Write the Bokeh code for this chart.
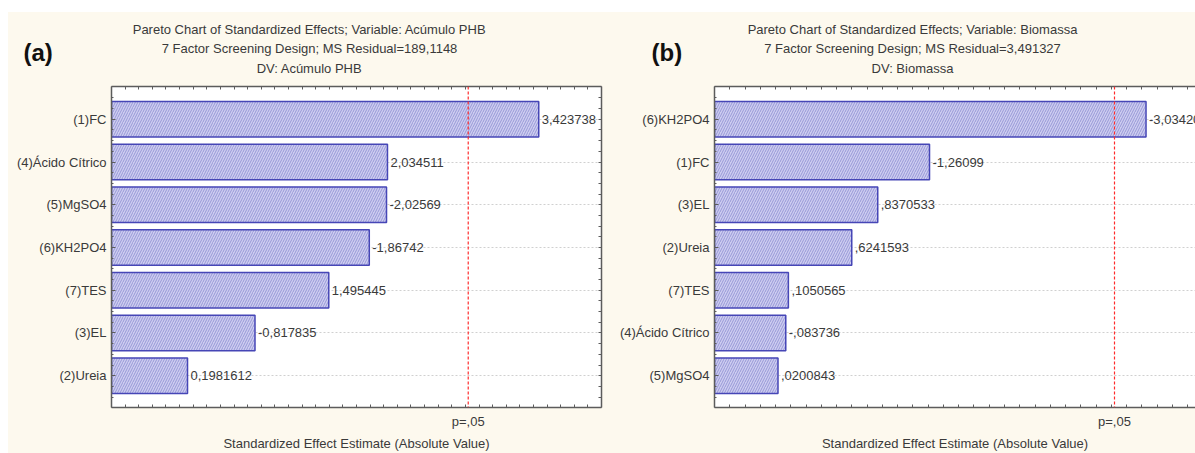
import numpy as np
from bokeh.plotting import figure
from bokeh.models import (Range1d, FixedTicker, LinearAxis, Span,
                          ColumnDataSource, Grid, Spacer)
from bokeh.layouts import row, column
from bokeh.embed import file_html
from bokeh.resources import INLINE
from bokeh.core.properties import value

# ---------------- data ----------------
factors_a = ["(1)FC", "(4)Ácido Cítrico", "(5)MgSO4", "(6)KH2PO4",
             "(7)TES", "(3)EL", "(2)Ureia"]
effects_a = [3.423738, 2.034511, -2.02569, -1.86742, 1.495445, -0.817835, 0.1981612]
labels_a = ["3,423738", "2,034511", "-2,02569", "-1,86742", "1,495445",
            "-0,817835", "0,1981612"]
titles_a = ["Pareto Chart of Standardized Effects; Variable: Acúmulo PHB",
            "7 Factor Screening Design; MS Residual=189,1148",
            "DV: Acúmulo PHB"]

factors_b = ["(6)KH2PO4", "(1)FC", "(3)EL", "(2)Ureia", "(7)TES",
             "(4)Ácido Cítrico", "(5)MgSO4"]
effects_b = [-3.03420, -1.26099, 0.8370533, 0.6241593, 0.1050565, -0.083736, 0.0200843]
labels_b = ["-3,03420", "-1,26099", ",8370533", ",6241593", ",1050565",
            "-,083736", ",0200843"]
titles_b = ["Pareto Chart of Standardized Effects; Variable: Biomassa",
            "7 Factor Screening Design; MS Residual=3,491327",
            "DV: Biomassa"]

p_crit = 2.776          # p = .05 critical value
p_label = "p=,05"
x_title = "Standardized Effect Estimate (Absolute Value)"

# ---------------- style ----------------
HEAD_H = 70
H = 371
CREAM = "#fdf9ee"
FONT = "Liberation Sans"
TXT = "#3a3a3a"
AX = "#5c5c5c"
X_START = -0.5


def header(width, titles, tag, title_cx, tag_x):
    h = figure(width=width, height=HEAD_H, output_backend="svg",
               toolbar_location=None, frame_align=False,
               x_range=Range1d(0, width), y_range=Range1d(HEAD_H, 0),
               x_axis_location=None, y_axis_location=None, min_border=0,
               outline_line_color=None, background_fill_color=CREAM,
               border_fill_color=CREAM)
    h.center = []
    h.text(x=[title_cx] * len(titles), y=[17, 36, 56], text=titles,
           text_align="center", text_baseline="middle",
           text_font=value(FONT), text_font_size="13px", text_color=TXT)
    h.text(x=[tag_x], y=[40], text=[tag], text_align="left",
           text_baseline="middle", text_font=value(FONT),
           text_font_size="24px", text_font_style="bold", text_color="#111111")
    return h


def panel(factors, effects, labels, width, border_left, border_right, x_end,
          right_axis):
    n = len(factors)
    pos = list(range(n, 0, -1))
    src = ColumnDataSource(dict(y=pos, right=[abs(e) for e in effects],
                                left=[X_START] * n, label=labels))
    p = figure(width=width, height=H, output_backend="svg", toolbar_location=None,
               frame_align=False,
               x_range=Range1d(X_START, x_end), y_range=Range1d(0.256, n + 0.767),
               x_axis_location=None, y_axis_location=None,
               min_border_left=border_left, min_border_right=border_right,
               min_border_top=4, min_border_bottom=44,
               background_fill_color="white", border_fill_color=CREAM,
               outline_line_color=None)
    p.center = []   # drop default grids

    xminor = list(np.arange(X_START, x_end + 0.001, 0.125))
    yminor = list(np.arange(0.5, n + 0.51, 0.25))

    p.add_layout(Grid(dimension=1, ticker=FixedTicker(ticks=pos),
                      grid_line_color="#d0d0d0", grid_line_dash="2 2"))

    p.hbar(y="y", left="left", right="right", height=0.83, source=src,
           fill_color="#cdcdf0", line_color="#4646b6", line_width=1.5,
           hatch_pattern="/", hatch_color="#8a8ad0", hatch_scale=5,
           hatch_weight=0.8)
    p.text(x="right", y="y", text="label", source=src, x_offset=3,
           text_baseline="middle", text_align="left",
           text_font=value(FONT), text_font_size="13px", text_color=TXT)

    p.add_layout(Span(location=p_crit, dimension="height", line_color="#ff2a2a",
                      line_dash="3 2", line_width=1.2))

    def style(ax):
        ax.axis_line_color = AX
        ax.axis_line_width = 1.5
        ax.major_tick_line_color = AX
        ax.minor_tick_line_color = AX
        ax.major_tick_out = 0
        ax.minor_tick_out = 0
        ax.major_label_text_font = FONT
        ax.major_label_text_font_size = "13px"
        ax.major_label_text_color = TXT

    yax = LinearAxis(ticker=FixedTicker(ticks=pos, minor_ticks=yminor),
                     major_label_overrides={pp: f for pp, f in zip(pos, factors)},
                     major_label_standoff=5)
    style(yax)
    yax.major_tick_in = 4
    yax.minor_tick_in = 2
    p.add_layout(yax, "left")

    top = LinearAxis(ticker=FixedTicker(ticks=[], minor_ticks=xminor),
                     major_label_standoff=0)
    style(top)
    top.minor_tick_in = 3
    p.add_layout(top, "above")

    bot = LinearAxis(ticker=FixedTicker(ticks=[p_crit], minor_ticks=xminor),
                     major_label_overrides={p_crit: p_label},
                     major_label_standoff=6,
                     axis_label=x_title, axis_label_standoff=4,
                     axis_label_text_font=FONT, axis_label_text_font_size="13px",
                     axis_label_text_font_style="normal",
                     axis_label_text_color=TXT)
    style(bot)
    bot.major_tick_in = 0
    bot.minor_tick_in = 3
    p.add_layout(bot, "below")

    if right_axis:
        rax = LinearAxis(ticker=FixedTicker(ticks=[], minor_ticks=yminor),
                         major_label_standoff=0)
        style(rax)
        rax.minor_tick_in = 3
        p.add_layout(rax, "right")
    return p


h1 = header(602, titles_a, "(a)", 301, 15)
h2 = header(585, titles_b, "(b)", 302, 41)
p1 = panel(factors_a, effects_a, labels_a, 602, 103, 9, 4.0, True)
p2 = panel(factors_b, effects_b, labels_b, 585, 104, 0,
           -0.5 + 481 / 122.1, False)

inner = row(column(h1, p1), column(h2, p2),
            styles={"background-color": CREAM})
layout = column(Spacer(height=12), row(Spacer(width=8), inner))
open("out.html", "w").write(file_html(layout, INLINE))
